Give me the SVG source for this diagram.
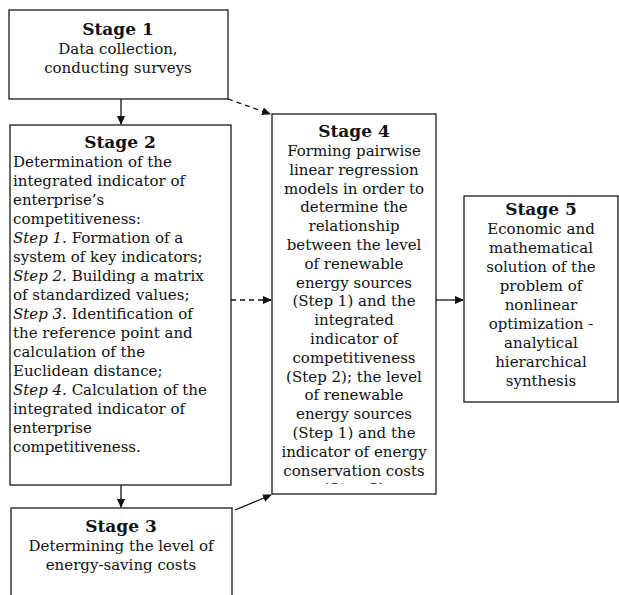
<svg xmlns="http://www.w3.org/2000/svg" width="619" height="595" viewBox="0 0 619 595">
<style>
.box{fill:#fff;stroke:#1a1a1a;stroke-width:1.3}
text{font-family:"DejaVu Serif","Liberation Serif",serif;font-size:15px;fill:#111}
.t{font-weight:bold;font-size:17px}
.c{text-anchor:middle}
.i{font-style:italic}
.ln{stroke:#111;stroke-width:1.3;fill:none}
.d{stroke-dasharray:5 4}
</style>
<defs>
<marker id="ah" markerWidth="9" markerHeight="8" refX="8" refY="4" orient="auto" markerUnits="userSpaceOnUse">
<path d="M0,0 L9,4 L0,8 Z" fill="#111"/>
</marker>
<clipPath id="c4"><rect x="272" y="114" width="164" height="370"/></clipPath>
</defs>
<rect width="619" height="595" fill="#fff"/>
<g id="connectors">
<line class="ln" x1="121" y1="99" x2="121" y2="124" marker-end="url(#ah)"/>
<line class="ln d" x1="228" y1="99" x2="270" y2="114" marker-end="url(#ah)"/>
<line class="ln d" x1="231" y1="300" x2="271" y2="300" marker-end="url(#ah)"/>
<line class="ln" x1="436" y1="300" x2="463" y2="300" marker-end="url(#ah)"/>
<line class="ln" x1="121" y1="485" x2="121" y2="507" marker-end="url(#ah)"/>
<line class="ln" x1="235" y1="510" x2="271" y2="495" marker-end="url(#ah)"/>
</g>
<g id="stage1">
<rect class="box" x="9" y="10" width="219" height="89"/>
<text class="t c" x="118" y="35">Stage 1</text>
<text class="c" x="118" y="54">Data collection,</text>
<text class="c" x="118" y="73">conducting surveys</text>
</g>
<g id="stage2">
<rect class="box" x="10" y="125" width="221" height="360"/>
<text class="t c" x="120" y="148">Stage 2</text>
<text x="13" y="167">Determination of the</text>
<text x="13" y="186">integrated indicator of</text>
<text x="13" y="205">enterprise’s</text>
<text x="13" y="224">competitiveness:</text>
<text x="13" y="243"><tspan class="i">Step 1.</tspan> Formation of a</text>
<text x="13" y="262">system of key indicators;</text>
<text x="13" y="281"><tspan class="i">Step 2.</tspan> Building a matrix</text>
<text x="13" y="300">of standardized values;</text>
<text x="13" y="319"><tspan class="i">Step 3.</tspan> Identification of</text>
<text x="13" y="338">the reference point and</text>
<text x="13" y="357">calculation of the</text>
<text x="13" y="376">Euclidean distance;</text>
<text x="13" y="395"><tspan class="i">Step 4.</tspan> Calculation of the</text>
<text x="13" y="414">integrated indicator of</text>
<text x="13" y="433">enterprise</text>
<text x="13" y="452">competitiveness.</text>
</g>
<g id="stage3">
<rect class="box" x="11" y="508" width="221" height="100"/>
<text class="t c" x="121" y="532">Stage 3</text>
<text class="c" x="121" y="551">Determining the level of</text>
<text class="c" x="121" y="570">energy-saving costs</text>
</g>
<g id="stage4">
<rect class="box" x="272" y="114" width="164" height="380"/>
<g clip-path="url(#c4)">
<text class="t c" x="354" y="137">Stage 4</text>
<text class="c" x="354" y="156">Forming pairwise</text>
<text class="c" x="354" y="174.8">linear regression</text>
<text class="c" x="354" y="193.6">models in order to</text>
<text class="c" x="354" y="212.4">determine the</text>
<text class="c" x="354" y="231.2">relationship</text>
<text class="c" x="354" y="250">between the level</text>
<text class="c" x="354" y="268.8">of renewable</text>
<text class="c" x="354" y="287.6">energy sources</text>
<text class="c" x="354" y="306.4">(Step 1) and the</text>
<text class="c" x="354" y="325.2">integrated</text>
<text class="c" x="354" y="344">indicator of</text>
<text class="c" x="354" y="362.8">competitiveness</text>
<text class="c" x="354" y="381.6">(Step 2); the level</text>
<text class="c" x="354" y="400.4">of renewable</text>
<text class="c" x="354" y="419.2">energy sources</text>
<text class="c" x="354" y="438">(Step 1) and the</text>
<text class="c" x="354" y="456.8">indicator of energy</text>
<text class="c" x="354" y="475.6">conservation costs</text>
<text class="c" x="354" y="494.4">(Step 3)</text>
</g>
</g>
<g id="stage5">
<rect class="box" x="464" y="196" width="154" height="206"/>
<text class="t c" x="541" y="215">Stage 5</text>
<text class="c" x="541" y="234">Economic and</text>
<text class="c" x="541" y="253">mathematical</text>
<text class="c" x="541" y="272">solution of the</text>
<text class="c" x="541" y="291">problem of</text>
<text class="c" x="541" y="310">nonlinear</text>
<text class="c" x="541" y="329">optimization -</text>
<text class="c" x="541" y="348">analytical</text>
<text class="c" x="541" y="367">hierarchical</text>
<text class="c" x="541" y="386">synthesis</text>
</g>
</svg>
